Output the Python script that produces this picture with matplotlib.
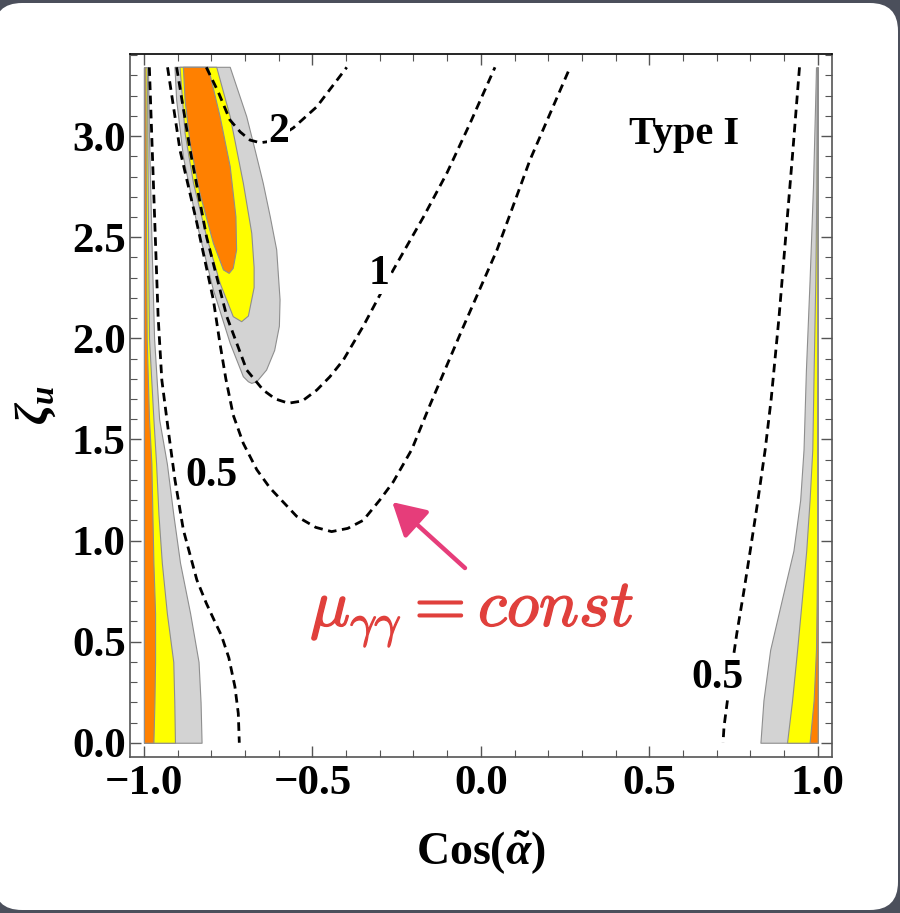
import numpy as np
import matplotlib
matplotlib.use("Agg")
import matplotlib.pyplot as plt
import matplotlib.patheffects as pe
from matplotlib.patches import FancyBboxPatch
from matplotlib.ticker import MultipleLocator

plt.rcParams['font.family'] = ['Liberation Serif', 'DejaVu Serif']
plt.rcParams['font.weight'] = 'bold'
plt.rcParams['mathtext.fontset'] = 'custom'
plt.rcParams['mathtext.rm'] = 'Liberation Serif:bold'
plt.rcParams['mathtext.it'] = 'Liberation Serif:bold:italic'
plt.rcParams['mathtext.bf'] = 'Liberation Serif:bold'

# dashed mu_gamma_gamma iso-lines (cos alpha, zeta_u)
mu2_x = [-0.815, -0.780, -0.745, -0.714, -0.685, -0.655, -0.620, -0.557, -0.487, -0.398]
mu2_y = [3.34, 3.22, 3.08, 3.02, 2.98, 2.967, 2.975, 3.04, 3.145, 3.34]

mu1_x = [-0.903, -0.863, -0.814, -0.754, -0.695, -0.646, -0.610, -0.571, -0.530, -0.487,
         -0.448, -0.408, -0.349, -0.260, -0.170, -0.101, -0.032, 0.042]
mu1_y = [3.34, 2.93, 2.50, 2.107, 1.843, 1.744, 1.70, 1.679, 1.69, 1.744,
         1.81, 1.893, 2.06, 2.338, 2.601, 2.816, 3.063, 3.34]

mu05_mid_x = [-0.930, -0.893, -0.843, -0.794, -0.775, -0.757, -0.735, -0.705, -0.665, -0.626,
              -0.547, -0.490, -0.443, -0.395, -0.349, -0.300, -0.260, -0.205, -0.151,
              -0.052, 0.048, 0.146, 0.265]
mu05_mid_y = [3.34, 2.93, 2.57, 2.19, 1.98, 1.80, 1.62, 1.48, 1.35, 1.26,
              1.12, 1.065, 1.044, 1.06, 1.10, 1.20, 1.29, 1.45, 1.67,
              2.057, 2.437, 2.882, 3.34]

mu05_left_x = [-0.984, -0.972, -0.958, -0.947, -0.928, -0.908, -0.883, -0.843, -0.815,
               -0.790, -0.770, -0.748, -0.730, -0.720, -0.717]
mu05_left_y = [3.34, 2.767, 2.107, 1.794, 1.547, 1.30, 1.052, 0.805, 0.69,
               0.60, 0.53, 0.42, 0.277, 0.145, 0.0]

mu05_right_x = [0.946, 0.925, 0.905, 0.885, 0.862, 0.844, 0.820, 0.800, 0.780, 0.760,
                0.745, 0.731, 0.722, 0.719]
mu05_right_y = [3.34, 2.90, 2.50, 2.10, 1.70, 1.447, 1.17, 0.952, 0.74, 0.541,
                0.37, 0.195, 0.08, 0.0]

# allowed region near cos alpha ~ -0.8 (outer, middle, inner)
blob_gray_x = [-0.908, -0.903, -0.883, -0.843, -0.794, -0.744, -0.705, -0.690, -0.680,
               -0.665, -0.636, -0.612, -0.598, -0.596, -0.606, -0.625, -0.646, -0.670, -0.695, -0.744]
blob_gray_y = [3.34, 3.178, 2.898, 2.569, 2.239, 1.975, 1.81, 1.785, 1.777,
               1.785, 1.843, 1.94, 2.06, 2.19, 2.437, 2.60, 2.767, 2.93, 3.096, 3.34]
blob_yellow_x = [-0.893, -0.878, -0.853, -0.814, -0.774, -0.735, -0.710,
                 -0.690, -0.673, -0.673, -0.680, -0.705, -0.744, -0.784]
blob_yellow_y = [3.34, 3.014, 2.767, 2.502, 2.272, 2.107, 2.082,
                 2.11, 2.25, 2.35, 2.519, 2.767, 3.096, 3.34]
blob_orange_x = [-0.883, -0.878, -0.863, -0.834, -0.794, -0.764, -0.747,
                 -0.735, -0.725, -0.727, -0.744, -0.774, -0.809]
blob_orange_y = [3.34, 3.178, 2.964, 2.717, 2.470, 2.338, 2.321,
                 2.346, 2.437, 2.601, 2.849, 3.096, 3.34]

# strip along cos alpha = -1
left_y = [0.0, 0.2, 0.4, 0.64, 0.89, 1.13, 1.38, 1.6, 2.0, 2.5, 3.0, 3.34]
left_gray = [-0.829, -0.832, -0.838, -0.863, -0.893, -0.913, -0.932, -0.955, -0.970, -0.978, -0.985, -0.988]
left_yellow = [-0.908, -0.910, -0.913, -0.932, -0.947, -0.957, -0.964, -0.972, -0.985, -0.988, -0.990, -0.991]
left_orange = [-0.972, -0.969, -0.967, -0.967, -0.972, -0.975, -0.978, -0.985, -0.992, -0.994, -0.995, -0.996]

# strip along cos alpha = +1
right_y = [0.0, 0.21, 0.46, 0.71, 0.95, 1.2, 1.45, 1.84, 2.29, 2.75, 3.2, 3.34]
right_gray = [0.830, 0.839, 0.859, 0.894, 0.928, 0.948, 0.958, 0.965, 0.976, 0.986, 0.993, 0.995]
right_yellow = [0.909, 0.924, 0.939, 0.953, 0.966, 0.976, 0.984, 0.988, 0.993, 0.996, 0.997, 0.998]
right_orange = [0.976, 0.988, 0.995, 0.997, 0.998, 0.999, 0.999, 0.9995, 0.9995, 0.9997, 0.9998, 0.9998]

GRAY = '#d3d3d3'
YELLOW = '#ffff00'
ORANGE = '#ff8000'
EDGE = '#8e8e8e'

fig = plt.figure(figsize=(9, 9.13), dpi=100)
fig.patch.set_facecolor('#4b4f5b')
card = FancyBboxPatch((-6, 3), 904, 907, boxstyle='round,pad=0,rounding_size=28',
                      transform=None, facecolor='white', edgecolor='none', zorder=-10)
fig.add_artist(card)

ax = fig.add_axes([0.1444, 0.1712, 0.7797, 0.7697])
ax.set_facecolor('white')
ax.set_xlim(-1.0416, 1.0416)
ax.set_ylim(-0.069, 3.406)

# filled regions
for xs, ys, col in [(blob_gray_x, blob_gray_y, GRAY),
                    (blob_yellow_x, blob_yellow_y, YELLOW),
                    (blob_orange_x, blob_orange_y, ORANGE)]:
    ax.fill(xs, ys, facecolor=col, edgecolor=EDGE, lw=0.8, zorder=2)

for edge, col in [(left_gray, GRAY), (left_yellow, YELLOW), (left_orange, ORANGE)]:
    ax.fill_betweenx(left_y, -1.0, edge, facecolor=col, edgecolor=EDGE, lw=0.8, zorder=2)
for edge, col in [(right_gray, GRAY), (right_yellow, YELLOW), (right_orange, ORANGE)]:
    ax.fill_betweenx(right_y, edge, 1.0, facecolor=col, edgecolor=EDGE, lw=0.8, zorder=2)

# iso-lines
dash = (0, (3.1, 2.0))
for xs, ys in [(mu2_x, mu2_y), (mu1_x, mu1_y), (mu05_mid_x, mu05_mid_y),
               (mu05_left_x, mu05_left_y), (mu05_right_x, mu05_right_y)]:
    ax.plot(xs, ys, color='black', lw=2.0, linestyle=dash, zorder=3)

lab = dict(fontsize=30, fontweight='bold', ha='center', va='center', zorder=4)
box = dict(facecolor='white', edgecolor='none', pad=1)
ax.text(-0.601, 3.019, '2', bbox=box, **lab)
ax.text(-0.301, 2.320, '1', bbox=box, **lab)
ax.text(-0.801, 1.319, '0.5', **lab)
ax.text(0.701, 0.322, '0.5', bbox=box, **lab)
ax.text(0.602, 3.010, 'Type I', fontsize=29, fontweight='bold', ha='center', va='center')

# annotation
ax.annotate('', xy=(-0.263, 1.190), xytext=(-0.047, 0.864),
            arrowprops=dict(arrowstyle='-|>,head_length=0.8,head_width=0.45',
                            color='#e63d7a', lw=3.2, mutation_scale=25, shrinkA=0, shrinkB=0),
            zorder=5)
ax.text(-0.026, 0.63, r'$\mu_{\gamma\gamma} = const$', fontsize=48, color='#e0403c',
        math_fontfamily='cm', ha='center', va='center',
        path_effects=[pe.withStroke(linewidth=1.0, foreground='#e0403c')])

# frame and ticks
for sp in ax.spines.values():
    sp.set_color('#555555')
    sp.set_linewidth(1.2)
ax.spines['top'].set_color('black')
ax.xaxis.set_major_locator(MultipleLocator(0.5))
ax.xaxis.set_minor_locator(MultipleLocator(0.1))
ax.yaxis.set_major_locator(MultipleLocator(0.5))
ax.yaxis.set_minor_locator(MultipleLocator(0.1))
ax.tick_params(which='both', direction='in', top=True, right=True, color='#555555')
ax.tick_params(which='major', length=8, width=1.0, labelsize=31)
ax.tick_params(which='minor', length=5, width=0.8)
ax.tick_params(axis='x', which='major', pad=6)
ax.tick_params(axis='y', which='major', pad=3)
ax.set_xticks([-1.0, -0.5, 0.0, 0.5, 1.0])
ax.set_xticklabels(['\u22121.0', '\u22120.5', '0.0', '0.5', '1.0'])
ax.set_yticks([0.0, 0.5, 1.0, 1.5, 2.0, 2.5, 3.0])
ax.set_yticklabels(['0.0', '0.5', '1.0', '1.5', '2.0', '2.5', '3.0'])
for t in ax.get_xticklabels() + ax.get_yticklabels():
    t.set_fontweight('bold')

ax.set_xlabel(r'Cos$(\tilde{\alpha})$', fontsize=33, fontweight='bold', labelpad=18)
ax.set_ylabel(r'$\zeta_u$', fontsize=34, labelpad=10)

fig.savefig('out.png', dpi=100, facecolor=fig.get_facecolor())
